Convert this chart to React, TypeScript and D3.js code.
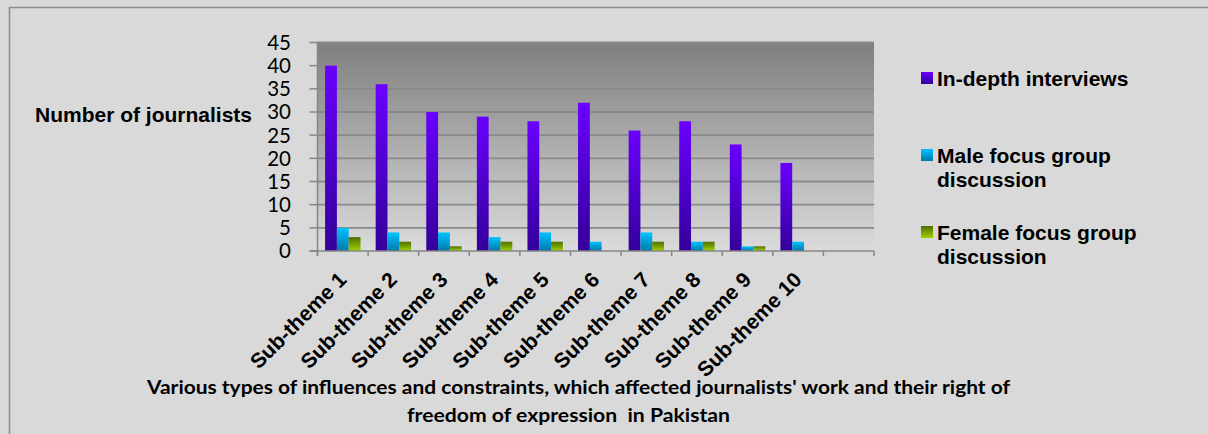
import React from "react";
import * as d3 from "d3";

// chart data
const categories = [
  "Sub-theme 1",
  "Sub-theme 2",
  "Sub-theme 3",
  "Sub-theme 4",
  "Sub-theme 5",
  "Sub-theme 6",
  "Sub-theme 7",
  "Sub-theme 8",
  "Sub-theme 9",
  "Sub-theme 10",
];
const inDepthInterviews = [40, 36, 30, 29, 28, 32, 26, 28, 23, 19];
const maleFocusGroup = [5, 4, 4, 3, 4, 2, 4, 2, 1, 2];
const femaleFocusGroup = [3, 2, 1, 2, 2, 0, 2, 2, 1, 0];
const seriesLabels = [
  ["In-depth interviews"],
  ["Male focus group", "discussion"],
  ["Female focus group", "discussion"],
];
const yTicks = [0, 5, 10, 15, 20, 25, 30, 35, 40, 45];
const yTitle = "Number of journalists";
const xTitle = [
  "Various types of influences and constraints, which affected journalists' work and their right of",
  "freedom of expression  in Pakistan",
];

const W = 1208;
const H = 434;
const plot = { left: 317.5, right: 874, top: 42.5, bottom: 251 };

// gradient stops: [top, bottom]
const gradients = [
  { id: "gPurple", top: "#6a00ff", bottom: "#34009a" },
  { id: "gCyan", top: "#00c2ff", bottom: "#0078a8" },
  { id: "gGreen", top: "#4f6e00", bottom: "#9fd200" },
];

const arial = "'Liberation Sans', Arial, sans-serif";
const calibri = "Lato, 'Open Sans', sans-serif";

export default function App() {
  const series = [inDepthInterviews, maleFocusGroup, femaleFocusGroup];

  // one blank slot at the end, like the source chart
  const x0 = d3
    .scaleBand<string>()
    .domain([...categories, ""])
    .range([plot.left, plot.right])
    .paddingInner(0)
    .paddingOuter(0);
  const bw = x0.bandwidth();
  const x1 = d3
    .scaleBand<number>()
    .domain([0, 1, 2])
    .range([bw * 0.15, bw * 0.85]);

  const y = d3.scaleLinear().domain([0, 45]).range([plot.bottom, plot.top]);

  const boundaries = x0.domain().map((c) => x0(c) as number).concat([plot.right]);

  return (
    <svg
      width={W}
      height={H}
      style={{ position: "absolute", left: 0, top: 0, display: "block" }}
    >
      <defs>
        <linearGradient id="plotBg" x1="0" y1="0" x2="0" y2="1">
          <stop offset="0" stopColor="#7f7f7f" />
          <stop offset="1" stopColor="#dbdbdb" />
        </linearGradient>
        {gradients.map((g) => (
          <linearGradient key={g.id} id={g.id} x1="0" y1="0" x2="0" y2="1">
            <stop offset="0" stopColor={g.top} />
            <stop offset="1" stopColor={g.bottom} />
          </linearGradient>
        ))}
      </defs>

      <rect x={0} y={0} width={W} height={H} fill="#d9d9d9" />
      <rect
        x={9.5}
        y={7.5}
        width={W + 20}
        height={H + 20}
        fill="#d9d9d9"
        stroke="#8c8c8c"
        strokeWidth={1.5}
      />

      {/* plot area */}
      <rect
        x={plot.left}
        y={plot.top}
        width={plot.right - plot.left}
        height={plot.bottom - plot.top}
        fill="url(#plotBg)"
      />

      {/* gridlines */}
      {yTicks.slice(1).map((t) => (
        <line
          key={"g" + t}
          x1={plot.left}
          x2={plot.right}
          y1={y(t)}
          y2={y(t)}
          stroke="#8a8a8a"
          strokeWidth={1.8}
        />
      ))}

      {/* bars */}
      {series.map((vals, si) =>
        vals.map((v, i) => {
          if (!v) return null;
          const bx = (x0(categories[i]) as number) + (x1(si) as number);
          return (
            <rect
              key={si + "-" + i}
              x={bx}
              y={y(v)}
              width={x1.bandwidth()}
              height={y(0) - y(v)}
              fill={`url(#${gradients[si].id})`}
            />
          );
        })
      )}

      {/* y axis */}
      <line x1={plot.left} x2={plot.left} y1={plot.top} y2={plot.bottom + 5} stroke="#868686" strokeWidth={1.5} />
      {yTicks.map((t) => (
        <g key={"t" + t}>
          <line x1={plot.left - 8} x2={plot.left} y1={y(t)} y2={y(t)} stroke="#868686" strokeWidth={1.5} />
          <text
            x={291}
            y={y(t)}
            dy="0.36em"
            textAnchor="end"
            fontFamily={calibri}
            fontSize={20.5}
            fill="#000"
          >
            {t}
          </text>
        </g>
      ))}

      {/* x axis */}
      <line x1={plot.left - 8} x2={plot.right} y1={plot.bottom} y2={plot.bottom} stroke="#868686" strokeWidth={1.5} />
      {boundaries.map((bx, i) => (
        <line key={"b" + i} x1={bx} x2={bx} y1={plot.bottom} y2={plot.bottom + 5} stroke="#868686" strokeWidth={1.5} />
      ))}
      {categories.map((c) => {
        const cx = (x0(c) as number) + bw / 2;
        return (
          <text
            key={c}
            transform={`translate(${cx + 5},${plot.bottom + 30}) rotate(-45)`}
            textAnchor="end"
            fontFamily={arial}
            fontWeight="bold"
            fontSize={21}
            fill="#000"
          >
            {c}
          </text>
        );
      })}

      {/* axis titles */}
      <text x={35} y={122} fontFamily={arial} fontWeight="bold" fontSize={21} fill="#000">
        {yTitle}
      </text>
      <text
        x={578.5}
        y={394}
        textAnchor="middle"
        fontFamily={calibri}
        fontWeight="bold"
        fontSize={18.5}
        textLength={863}
        lengthAdjust="spacingAndGlyphs"
        fill="#000"
      >
        {xTitle[0]}
      </text>
      <text
        x={568.5}
        y={422}
        textAnchor="middle"
        fontFamily={calibri}
        fontWeight="bold"
        fontSize={18.5}
        textLength={323}
        lengthAdjust="spacingAndGlyphs"
        fill="#000"
        style={{ whiteSpace: "pre" }}
      >
        {xTitle[1]}
      </text>

      {/* legend */}
      {seriesLabels.map((lines, i) => {
        const base = 86 + i * 77;
        return (
          <g key={"l" + i}>
            <rect x={921} y={base - 14} width={12} height={12} fill={`url(#${gradients[i].id})`} />
            {lines.map((ln, j) => (
              <text
                key={j}
                x={937}
                y={base + j * 23.5}
                fontFamily={arial}
                fontWeight="bold"
                fontSize={21}
                fill="#000"
              >
                {ln}
              </text>
            ))}
          </g>
        );
      })}
    </svg>
  );
}
